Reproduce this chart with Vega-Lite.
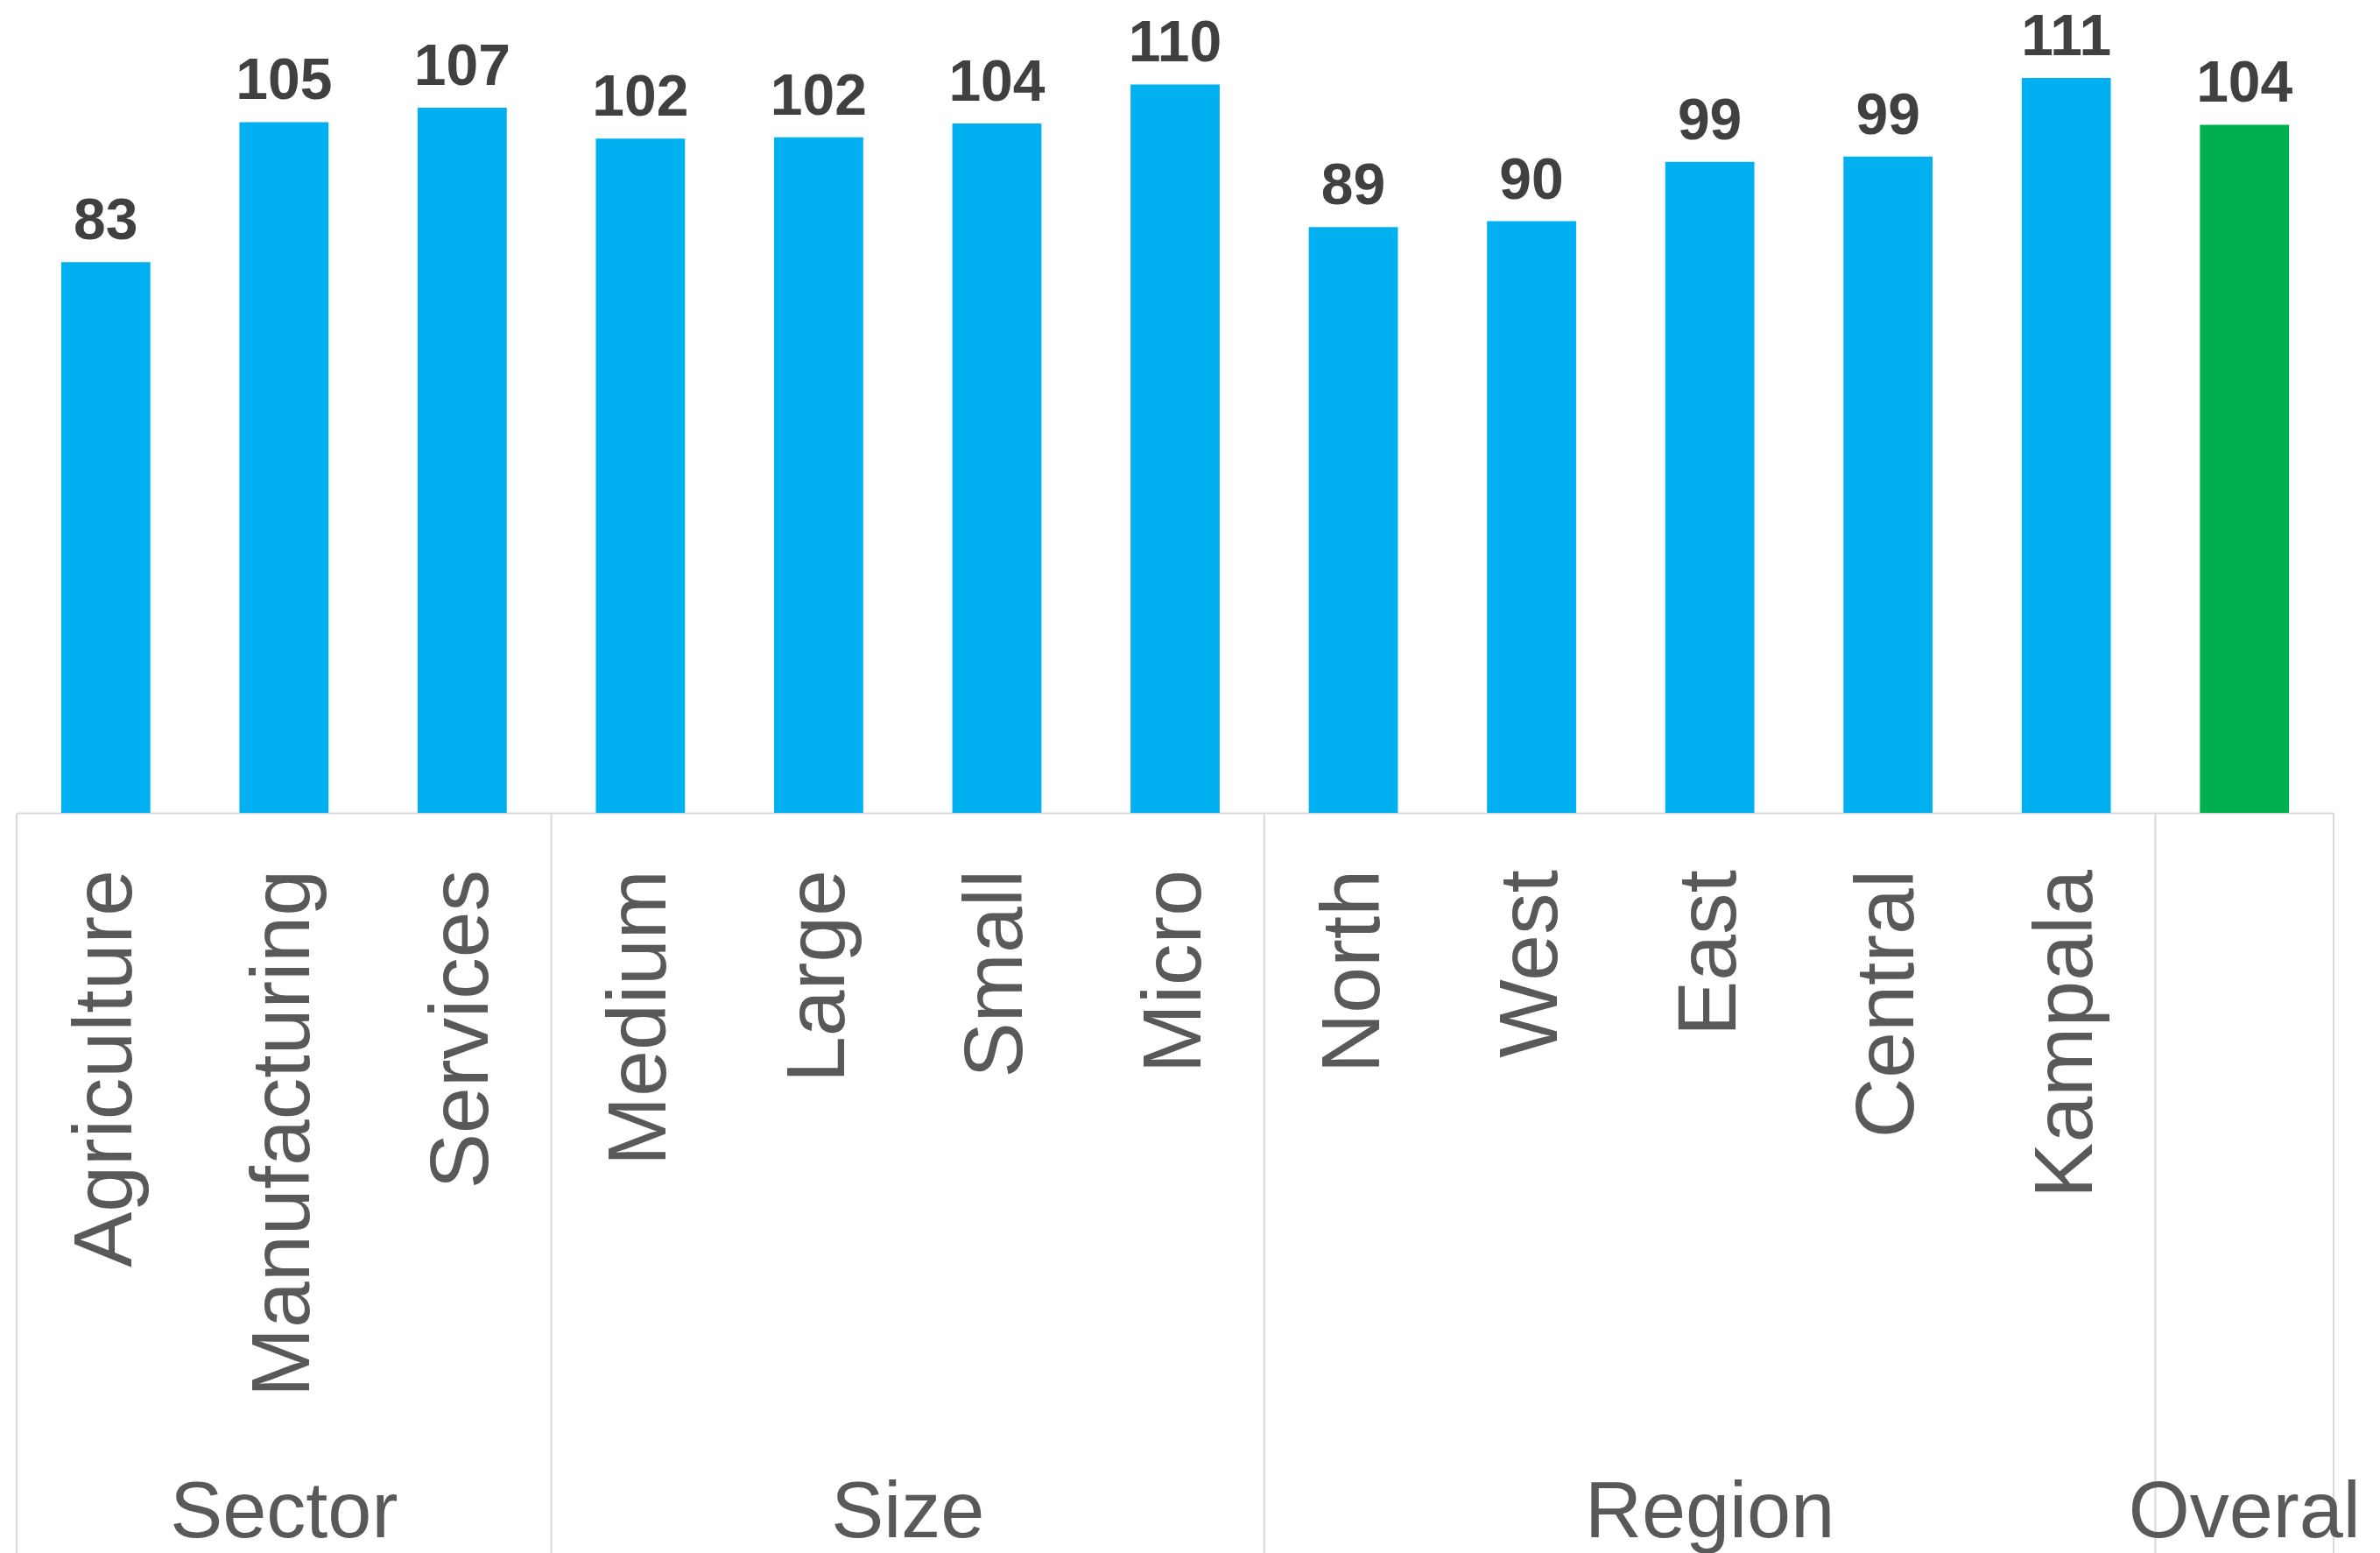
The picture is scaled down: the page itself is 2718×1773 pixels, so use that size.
{
  "$schema": "https://vega.github.io/schema/vega-lite/v6.json",
  "background": "white",
  "padding": {"left": 17, "top": 0, "right": 0, "bottom": 0},
  "autosize": {"type": "pad"},
  "config": {"view": {"stroke": null}, "font": "Liberation Sans"},
  "datasets": {
    "bars": [
      {"cat": "Agriculture", "group": "Sector", "value": 83.4},
      {"cat": "Manufacturing", "group": "Sector", "value": 104.6},
      {"cat": "Services", "group": "Sector", "value": 106.8},
      {"cat": "Medium", "group": "Size", "value": 102.1},
      {"cat": "Large", "group": "Size", "value": 102.3},
      {"cat": "Small", "group": "Size", "value": 104.4},
      {"cat": "Micro", "group": "Size", "value": 110.3},
      {"cat": "North", "group": "Region", "value": 88.7},
      {"cat": "West", "group": "Region", "value": 89.6},
      {"cat": "East", "group": "Region", "value": 98.6},
      {"cat": "Central", "group": "Region", "value": 99.4},
      {"cat": "Kampala", "group": "Region", "value": 111.3},
      {"cat": "Overall", "group": "Overal", "value": 104.2}
    ]
  },
  "spacing": 0,
  "resolve": {"scale": {"x": "shared"}},
  "vconcat": [
    {
      "width": 2646,
      "height": 928,
      "data": {"name": "bars"},
      "encoding": {
        "x": {
          "field": "cat",
          "type": "nominal",
          "scale": {
            "domain": ["Agriculture", "Manufacturing", "Services", "Medium", "Large", "Small", "Micro", "North", "West", "East", "Central", "Kampala", "Overall"],
            "paddingInner": 0.5,
            "paddingOuter": 0.25
          },
          "axis": {"labels": false, "ticks": false, "title": null, "domain": true, "domainColor": "#D9D9D9", "domainWidth": 2, "grid": false}
        },
        "y": {
          "field": "value",
          "type": "quantitative",
          "scale": {"domain": [0, 123.1], "nice": false, "zero": true},
          "axis": null
        }
      },
      "layer": [
        {
          "mark": {"type": "bar"},
          "encoding": {
            "color": {
              "field": "group",
              "type": "nominal",
              "scale": {"domain": ["Sector", "Size", "Region", "Overal"], "range": ["#00B0F0", "#00B0F0", "#00B0F0", "#00B050"]},
              "legend": null
            }
          }
        },
        {
          "mark": {"type": "text", "baseline": "alphabetic", "dy": -26, "fontSize": 66, "fontWeight": "bold", "color": "#404040"},
          "encoding": {"text": {"field": "value", "type": "quantitative", "format": ".0f"}}
        }
      ]
    },
    {
      "width": 2646,
      "height": 845,
      "data": {"name": "bars"},
      "layer": [
        {
          "transform": [{"filter": {"field": "cat", "oneOf": ["Agriculture", "Medium", "North", "Overall"]}}],
          "mark": {"type": "rule", "color": "#D9D9D9", "strokeWidth": 2},
          "encoding": {"x": {"field": "cat", "type": "nominal", "bandPosition": -0.5, "axis": null}}
        },
        {
          "transform": [{"filter": {"field": "cat", "equal": "Overall"}}],
          "mark": {"type": "rule", "color": "#D9D9D9", "strokeWidth": 2},
          "encoding": {"x": {"field": "cat", "type": "nominal", "bandPosition": 1.5, "axis": null}}
        },
        {
          "transform": [{"filter": {"not": {"field": "cat", "equal": "Overall"}}}],
          "mark": {"type": "text", "angle": 270, "align": "right", "baseline": "middle", "fontSize": 95, "color": "#595959", "y": 64},
          "encoding": {"x": {"field": "cat", "type": "nominal", "axis": null}, "text": {"field": "cat"}}
        },
        {
          "transform": [{"filter": {"field": "cat", "oneOf": ["Manufacturing", "East", "Overall"]}}],
          "mark": {"type": "text", "align": "center", "baseline": "alphabetic", "fontSize": 90, "color": "#595959", "y": 826},
          "encoding": {"x": {"field": "cat", "type": "nominal", "axis": null}, "text": {"field": "group"}}
        },
        {
          "transform": [{"filter": {"field": "cat", "equal": "Large"}}],
          "mark": {"type": "text", "align": "center", "baseline": "alphabetic", "fontSize": 90, "color": "#595959", "y": 826},
          "encoding": {"x": {"field": "cat", "type": "nominal", "bandPosition": 1.5, "axis": null}, "text": {"field": "group"}}
        }
      ]
    }
  ]
}
